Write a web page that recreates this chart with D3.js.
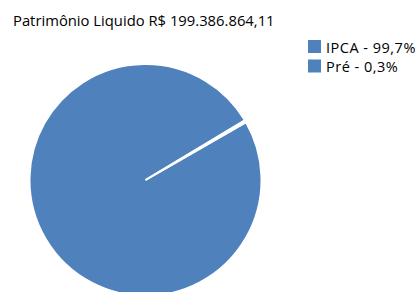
<!DOCTYPE html>
<html>
<head>
<meta charset="utf-8">
<script src="https://cdn.jsdelivr.net/npm/d3@7"></script>
<style>
  body { margin: 0; background: #fff; }
  svg { font-family: "Open Sans", sans-serif; }
</style>
</head>
<body>
<svg id="chart" width="419" height="292"></svg>
<script>
// pie data
const categories = ["IPCA", "Pré"];
const shares = [99.7, 0.3];
const labels = ["IPCA - 99,7%", "Pré - 0,3%"];
const title = "Patrimônio Liquido R$ 199.386.864,11";

(function() {
    const svg = d3.select("#chart");
    const color = "#4f81bd";

    svg.append("text")
        .attr("x", 13)
        .attr("y", 26)
        .attr("font-size", 14.8)
        .attr("fill", "#000")
        .text(title);

    const cx = 145.5, cy = 180, r = 116;
    const deg = Math.PI / 180;

    const pie = d3.pie()
        .sort(null)
        .startAngle(60.1 * deg)
        .endAngle(60.1 * deg + 2 * Math.PI);

    const arc = d3.arc().innerRadius(0).outerRadius(r);

    const data = categories.map((c, i) => ({ name: c, value: shares[i] }));

    svg.append("g")
        .attr("transform", `translate(${cx},${cy})`)
        .selectAll("path")
        .data(pie.value(d => d.value)(data))
        .enter().append("path")
        .attr("d", arc)
        .attr("fill", color)
        .attr("stroke", "#fff")
        .attr("stroke-width", 2)
        .attr("stroke-linejoin", "bevel");

    const legend = svg.append("g")
        .attr("transform", "translate(308,40)");

    const item = legend.selectAll("g")
        .data(labels)
        .enter().append("g")
        .attr("transform", (d, i) => `translate(0,${i * 19.5})`);

    item.append("rect")
        .attr("width", 13)
        .attr("height", 13)
        .attr("fill", color);

    item.append("text")
        .attr("x", 18)
        .attr("y", 12.5)
        .attr("font-size", 14.5)
        .attr("letter-spacing", 0.5)
        .attr("fill", "#000")
        .text(d => d);
})();
</script>
</body>
</html>
